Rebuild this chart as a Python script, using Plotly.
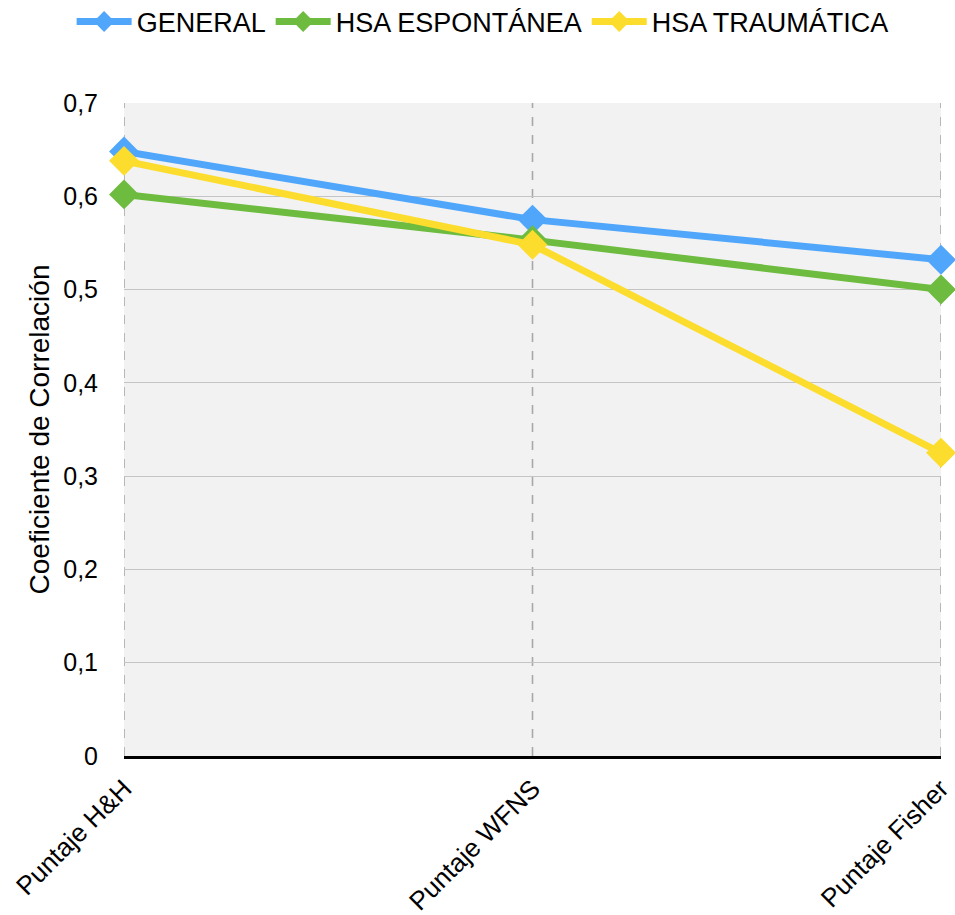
import plotly.graph_objects as go

categories = ["Puntaje H&H", "Puntaje WFNS", "Puntaje Fisher"]
series_names = ["GENERAL", "HSA ESPONTÁNEA", "HSA TRAUMÁTICA"]
general = [0.648, 0.575, 0.532]
espontanea = [0.602, 0.553, 0.500]
traumatica = [0.638, 0.548, 0.325]
y_ticks = [0, 0.1, 0.2, 0.3, 0.4, 0.5, 0.6, 0.7]
y_tick_labels = ["0", "0,1", "0,2", "0,3", "0,4", "0,5", "0,6", "0,7"]

colors = ["#4fa6fb", "#6dbb3f", "#fcdc2c"]
values = [general, espontanea, traumatica]
xpos = list(range(len(categories)))

fig = go.Figure()
for name, vals, col in zip(series_names, values, colors):
    fig.add_trace(go.Scatter(
        x=xpos, y=vals, name=name, mode="lines+markers",
        line=dict(color=col, width=7),
        marker=dict(symbol="diamond", size=23, color=col),
        cliponaxis=False,
    ))

# dashed vertical guides at every category, including the two plot edges
for xv in xpos:
    fig.add_shape(type="line", xref="x", yref="paper", x0=xv, x1=xv, y0=0, y1=1,
                  line=dict(color="#a8a8a8", width=1.6, dash="dash"), layer="below")

font = "Liberation Sans, Arial, sans-serif"
fig.update_layout(
    width=955, height=915,
    margin=dict(l=124, r=14, t=103, b=159, autoexpand=False),
    paper_bgcolor="white", plot_bgcolor="#f2f2f2",
    font=dict(family=font, size=22, color="black"),
    showlegend=True,
    legend=dict(orientation="h", xref="container", yref="container",
                x=0.075, xanchor="left", y=0.976, yanchor="middle",
                font=dict(size=27), itemwidth=55, traceorder="normal"),
    xaxis=dict(
        range=[0, 2], tickvals=xpos, ticktext=categories,
        tickangle=-45, showgrid=False,
        zeroline=False, showline=True, linecolor="black", linewidth=3,
        ticks="outside", ticklen=4, tickcolor="rgba(0,0,0,0)", tickfont=dict(size=26),
    ),
    yaxis=dict(
        range=[0, 0.7], tickvals=y_ticks, ticktext=y_tick_labels,
        showgrid=True, gridcolor="#c4c4c4", gridwidth=1.2, zeroline=False,
        showline=False, ticks="outside", ticklen=20, tickcolor="rgba(0,0,0,0)",
        tickfont=dict(size=25),
        title=dict(text="Coeficiente de Correlación", font=dict(size=28), standoff=5),
    ),
)

fig.write_html("out.html")
